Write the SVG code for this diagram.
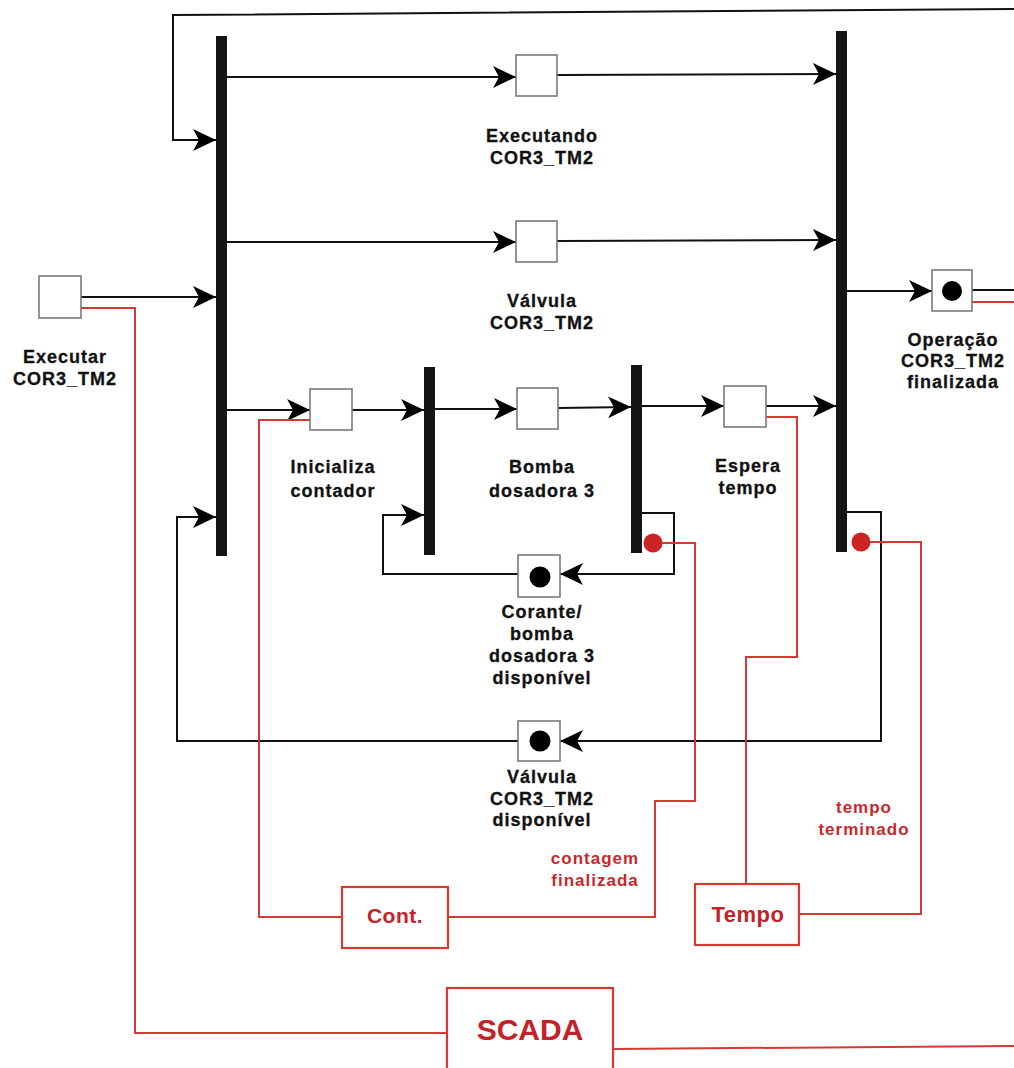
<svg xmlns="http://www.w3.org/2000/svg" width="1014" height="1068" viewBox="0 0 1014 1068">
<style>
.bg{fill:#ffffff}
.bar{fill:#151515}
.place{fill:#ffffff;stroke:#7a7a7a;stroke-width:1.6}
.tok{fill:#000000}
.rdot{fill:#cc2424}
.ln{fill:none;stroke:#111111;stroke-width:2}
.rl{fill:none;stroke:#d23a32;stroke-width:2}
.rbox{fill:#ffffff;stroke:#d23a32;stroke-width:2.2}
.lbl{font-family:"Liberation Sans",Arial,sans-serif;font-weight:bold;font-size:18px;letter-spacing:1px;text-anchor:middle;fill:#111111;stroke:#111111;stroke-width:0.3}
.rlbl{font-family:"Liberation Sans",Arial,sans-serif;font-weight:bold;font-size:17px;letter-spacing:1px;text-anchor:middle;fill:#c8282a}
.btxt{font-family:"Liberation Sans",Arial,sans-serif;font-weight:bold;text-anchor:middle;fill:#c4222a}
</style>
<defs>
<marker id="ah" markerUnits="userSpaceOnUse" markerWidth="26" markerHeight="24" refX="23" refY="11" orient="auto" viewBox="0 0 26 24">
<path d="M0,0 L23,11 L0,22 L6,11 z" fill="#000000"/>
</marker>
</defs>
<rect class="bg" x="0" y="0" width="1014" height="1068"/>

<g id="connectors">
<path class="ln" d="M1014,9 L173,15 L173,140 L216,140" marker-end="url(#ah)"/>
<path class="ln" d="M226,77 L516,77" marker-end="url(#ah)"/>
<path class="ln" d="M557,75 L836,74" marker-end="url(#ah)"/>
<path class="ln" d="M226,242 L516,242" marker-end="url(#ah)"/>
<path class="ln" d="M557,241 L836,240" marker-end="url(#ah)"/>
<path class="ln" d="M81,297 L216,297" marker-end="url(#ah)"/>
<path class="ln" d="M847,291 L932,291" marker-end="url(#ah)"/>
<path class="ln" d="M972,290 L1014,290"/>
<path class="ln" d="M226,410 L310,410" marker-end="url(#ah)"/>
<path class="ln" d="M352,410 L424,410" marker-end="url(#ah)"/>
<path class="ln" d="M435,409 L517,409" marker-end="url(#ah)"/>
<path class="ln" d="M558,408 L631,407" marker-end="url(#ah)"/>
<path class="ln" d="M642,406 L724,406" marker-end="url(#ah)"/>
<path class="ln" d="M766,406 L836,406" marker-end="url(#ah)"/>
<path class="ln" d="M642,513 L674,513 L674,574 L560,574" marker-end="url(#ah)"/>
<path class="ln" d="M518,574 L383,574 L383,515 L424,515" marker-end="url(#ah)"/>
<path class="ln" d="M847,512 L881,512 L881,741 L560,741" marker-end="url(#ah)"/>
<path class="ln" d="M518,741 L177,741 L177,517 L216,517" marker-end="url(#ah)"/>
<path class="rl" d="M81,308 L135,308 L135,1033 L447,1033"/>
<path class="rl" d="M613,1049 L1014,1046"/>
<path class="rl" d="M972,302 L1014,302"/>
<path class="rl" d="M310,420 L259,420 L259,917 L342,917"/>
<path class="rl" d="M448,917 L655,917 L655,801 L695,801 L695,543 L653,543"/>
<path class="rl" d="M766,417 L797,417 L797,657 L746,657 L746,884"/>
<path class="rl" d="M799,914 L921,914 L921,542 L861,542"/>
</g>

<g id="t_left"><rect class="bar" x="216" y="36" width="11" height="520"/></g>
<g id="t_right"><rect class="bar" x="836" y="31" width="11" height="521"/><circle class="rdot" cx="861" cy="542" r="9.5"/></g>
<g id="t_mid1"><rect class="bar" x="424" y="367" width="11" height="188"/></g>
<g id="t_mid2"><rect class="bar" x="631" y="365" width="11" height="188"/><circle class="rdot" cx="653" cy="543" r="9.5"/></g>

<g id="p_executar">
<rect class="place" x="39" y="276" width="42" height="42"/>
<text class="lbl" x="65" y="363">Executar</text>
<text class="lbl" x="65" y="385">COR3_TM2</text>
</g>
<g id="p_executando">
<rect class="place" x="516" y="55" width="41" height="41"/>
<text class="lbl" x="542" y="142">Executando</text>
<text class="lbl" x="542" y="164">COR3_TM2</text>
</g>
<g id="p_valvula">
<rect class="place" x="516" y="221" width="41" height="41"/>
<text class="lbl" x="542" y="307">Válvula</text>
<text class="lbl" x="542" y="329">COR3_TM2</text>
</g>
<g id="p_operacao">
<rect class="place" x="932" y="270" width="40" height="41"/>
<circle class="tok" cx="952" cy="291" r="10"/>
<text class="lbl" x="953" y="346">Operação</text>
<text class="lbl" x="953" y="367">COR3_TM2</text>
<text class="lbl" x="953" y="388">finalizada</text>
</g>
<g id="p_inicializa">
<rect class="place" x="310" y="389" width="42" height="41"/>
<text class="lbl" x="333" y="473">Inicializa</text>
<text class="lbl" x="333" y="497">contador</text>
</g>
<g id="p_bomba">
<rect class="place" x="517" y="388" width="41" height="41"/>
<text class="lbl" x="542" y="473">Bomba</text>
<text class="lbl" x="542" y="497">dosadora 3</text>
</g>
<g id="p_espera">
<rect class="place" x="724" y="386" width="42" height="41"/>
<text class="lbl" x="748" y="472">Espera</text>
<text class="lbl" x="748" y="494">tempo</text>
</g>
<g id="p_corante">
<rect class="place" x="518" y="555" width="42" height="42"/>
<circle class="tok" cx="540" cy="577" r="10.5"/>
<text class="lbl" x="542" y="618">Corante/</text>
<text class="lbl" x="542" y="640">bomba</text>
<text class="lbl" x="542" y="662">dosadora 3</text>
<text class="lbl" x="542" y="684">disponível</text>
</g>
<g id="p_valvula_disp">
<rect class="place" x="518" y="721" width="42" height="40"/>
<circle class="tok" cx="540" cy="741" r="10.5"/>
<text class="lbl" x="542" y="783">Válvula</text>
<text class="lbl" x="542" y="805">COR3_TM2</text>
<text class="lbl" x="542" y="826">disponível</text>
</g>

<g id="lbl_contagem">
<text class="rlbl" x="595" y="864">contagem</text>
<text class="rlbl" x="595" y="886">finalizada</text>
</g>
<g id="lbl_tempo">
<text class="rlbl" x="864" y="813">tempo</text>
<text class="rlbl" x="864" y="835">terminado</text>
</g>

<g id="b_cont">
<rect class="rbox" x="342" y="887" width="106" height="61"/>
<text class="btxt" x="395" y="923" font-size="21" letter-spacing="0.5">Cont.</text>
</g>
<g id="b_tempo">
<rect class="rbox" x="695" y="884" width="104" height="61"/>
<text class="btxt" x="748" y="922" font-size="22" letter-spacing="0.5">Tempo</text>
</g>
<g id="b_scada">
<rect class="rbox" x="447" y="988" width="166" height="90"/>
<text class="btxt" x="530" y="1040" font-size="30">SCADA</text>
</g>
</svg>
